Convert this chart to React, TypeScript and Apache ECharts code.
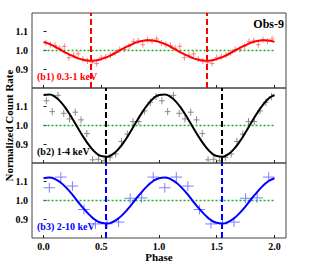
import React, { useEffect, useRef } from "react";
import * as echarts from "echarts";

// ---- data ----
const xTicks = [0, 0.5, 1.0, 1.5, 2.0];
const yTicks = [0.9, 1.0, 1.1];

const bins1 = [0.02, 0.06, 0.10, 0.14, 0.18, 0.22, 0.26, 0.30, 0.34, 0.38, 0.42, 0.46, 0.50, 0.54, 0.58, 0.62, 0.66, 0.70, 0.74, 0.78, 0.82, 0.86, 0.90, 0.94, 0.98];
const rate1 = [1.040, 1.031, 1.027, 1.012, 1.022, 0.962, 0.975, 0.982, 0.955, 0.944, 0.936, 0.931, 0.962, 0.966, 0.975, 0.988, 1.005, 1.006, 1.022, 1.048, 1.052, 1.031, 1.058, 1.050, 1.062];
const err1 = 0.016;
const halfBin1 = 0.02;

const bins2 = [0.025, 0.075, 0.125, 0.175, 0.225, 0.275, 0.325, 0.375, 0.425, 0.475, 0.525, 0.575, 0.625, 0.675, 0.725, 0.775, 0.825, 0.875, 0.925, 0.975];
const rate2 = [1.132, 1.074, 1.161, 1.065, 1.035, 1.071, 1.030, 0.957, 0.817, 0.820, 0.812, 0.830, 0.848, 0.915, 0.954, 1.021, 1.021, 1.078, 1.124, 1.154];
const err2 = 0.019;
const halfBin2 = 0.025;

const bins3 = [0.05, 0.15, 0.25, 0.35, 0.45, 0.55, 0.65, 0.75, 0.85, 0.95];
const rate3 = [1.068, 1.125, 1.077, 0.952, 0.875, 0.876, 0.885, 1.012, 1.014, 1.125];
const err3 = 0.026;
const halfBin3 = 0.05;

const curvePhase = [0, 0.05, 0.10, 0.15, 0.20, 0.25, 0.30, 0.35, 0.40, 0.45, 0.50, 0.55, 0.60, 0.65, 0.70, 0.75, 0.80, 0.85, 0.90, 0.95, 1.0];
const curve1 = [1.046, 1.035, 1.020, 1.003, 0.986, 0.971, 0.958, 0.949, 0.945, 0.947, 0.954, 0.965, 0.980, 0.997, 1.014, 1.029, 1.042, 1.051, 1.055, 1.053, 1.046];
const curve2 = [1.163, 1.166, 1.153, 1.125, 1.085, 1.036, 0.984, 0.934, 0.890, 0.856, 0.837, 0.834, 0.847, 0.875, 0.915, 0.964, 1.016, 1.066, 1.110, 1.144, 1.163];
const curve3 = [1.119, 1.123, 1.114, 1.095, 1.066, 1.031, 0.992, 0.955, 0.922, 0.896, 0.881, 0.877, 0.886, 0.905, 0.934, 0.969, 1.008, 1.045, 1.078, 1.104, 1.119];

const minPhase = [0.41, 0.535, 0.54];
const panelLabels = ["(b1) 0.3-1 keV", "(b2) 1-4 keV", "(b3) 2-10 keV"];
const obsLabel = "Obs-9";
const yTitle = "Normalized Count Rate";
const xTitle = "Phase";

// ---- styles ----
const FONT = "'Liberation Serif', 'Times New Roman', serif";
const lineColors = ["#ff0000", "#000000", "#0000ff"];
const crossColors = ["#ff8080", "#8a8a8a", "#7f7fff"];
const labelColors = ["#ff0000", "#000000", "#0000ff"];
const gridTops = [13, 88, 163];
const gridH = 75;

function twoCycles(ph: number[], v: number[]) {
  const out: number[][] = [];
  ph.forEach((p, i) => out.push([p, v[i]]));
  ph.forEach((p, i) => { if (p > 0) out.push([p + 1, v[i]]); });
  return out;
}

function crossData(bins: number[], rates: number[], hw: number, e: number) {
  const out: number[][] = [];
  for (let c = 0; c < 2; c++) bins.forEach((b, i) => out.push([b + c, rates[i], hw, e]));
  return out;
}

export default function App() {
  const ref = useRef<HTMLDivElement>(null);
  useEffect(() => {
    if (!ref.current) return;
    const chart = echarts.init(ref.current, undefined, { renderer: "svg" });
    const bins = [bins1, bins2, bins3];
    const rates = [rate1, rate2, rate3];
    const hws = [halfBin1, halfBin2, halfBin3];
    const errs = [err1, err2, err3];
    const curves = [curve1, curve2, curve3];

    const grid = gridTops.map((t) => ({
      left: 32, right: 32, top: t, height: gridH,
      show: true, borderColor: "#444", borderWidth: 1, backgroundColor: "transparent",
    }));
    const xAxis = gridTops.map((_, i) => ({
      type: "value", gridIndex: i, min: -0.1, max: 2.1,
      axisLine: { show: false },
      splitLine: { show: false },
      axisTick: { show: true, inside: true, length: 3, customValues: xTicks, lineStyle: { color: "#222" } },
      axisLabel: {
        show: i === 2, customValues: xTicks, margin: 3,
        fontFamily: FONT, fontWeight: "bold", fontSize: 10, color: "#000",
        formatter: (v: number) => v.toFixed(1),
      },
    }));
    const yAxis = gridTops.map((_, i) => ({
      type: "value", gridIndex: i, min: 0.8, max: 1.2,
      axisLine: { show: false },
      splitLine: { show: false },
      axisTick: { show: true, inside: true, length: 3, customValues: yTicks, lineStyle: { color: "#222" } },
      axisLabel: {
        customValues: yTicks, margin: 4,
        fontFamily: FONT, fontWeight: "bold", fontSize: 10, color: "#000",
        formatter: (v: number) => v.toFixed(1),
      },
    }));

    const series: any[] = [];
    for (let i = 0; i < 3; i++) {
      const col = crossColors[i];
      series.push({
        type: "custom", xAxisIndex: i, yAxisIndex: i, clip: true,
        data: crossData(bins[i], rates[i], hws[i], errs[i]),
        encode: { x: 0, y: 1 },
        renderItem: (params: any, api: any) => {
          const x = api.value(0), y = api.value(1), hw = api.value(2), e = api.value(3);
          const l = api.coord([x - hw, y]);
          const r = api.coord([x + hw, y]);
          const t = api.coord([x, y + e]);
          const b = api.coord([x, y - e]);
          return {
            type: "group",
            children: [
              { type: "line", shape: { x1: l[0], y1: l[1], x2: r[0], y2: r[1] }, style: { stroke: col, lineWidth: 1 } },
              { type: "line", shape: { x1: t[0], y1: t[1], x2: b[0], y2: b[1] }, style: { stroke: col, lineWidth: 1 } },
            ],
          };
        },
      });
      series.push({
        type: "line", xAxisIndex: i, yAxisIndex: i,
        data: [[0, 1], [2, 1]], symbol: "none",
        lineStyle: { color: "#22aa22", width: 1.6, type: [2, 2] },
      });
      series.push({
        type: "line", xAxisIndex: i, yAxisIndex: i,
        data: twoCycles(curvePhase, curves[i]), symbol: "none", smooth: true,
        lineStyle: { color: lineColors[i], width: 2 },
        markLine: {
          silent: true, symbol: "none", label: { show: false },
          lineStyle: { color: lineColors[i], width: 2, type: [6, 3] },
          data: [{ xAxis: minPhase[i] }, { xAxis: minPhase[i] + 1 }],
        },
      });
    }

    const graphic: any[] = [
      {
        type: "text", x: 284, y: 24,
        style: { text: obsLabel, font: `bold 12px ${FONT}`, fill: "#000", align: "right", verticalAlign: "middle" },
      },
      ...panelLabels.map((t, i) => ({
        type: "text", x: 37, y: gridTops[i] + 63.5,
        style: { text: t, font: `bold 10px ${FONT}`, fill: labelColors[i], align: "left", verticalAlign: "middle" },
      })),
      {
        type: "text", x: 9, y: 125.5, rotation: Math.PI / 2,
        style: { text: yTitle, font: `bold 11px ${FONT}`, fill: "#000", align: "center", verticalAlign: "middle" },
      },
      {
        type: "text", x: 159, y: 257,
        style: { text: xTitle, font: `bold 11px ${FONT}`, fill: "#000", align: "center", verticalAlign: "middle" },
      },
    ];

    chart.setOption({ animation: false, grid, xAxis, yAxis, series, graphic });
    return () => chart.dispose();
  }, []);
  return <div ref={ref} style={{ position: "fixed", left: 0, top: 0, width: 318, height: 265, background: "#fff" }} />;
}
